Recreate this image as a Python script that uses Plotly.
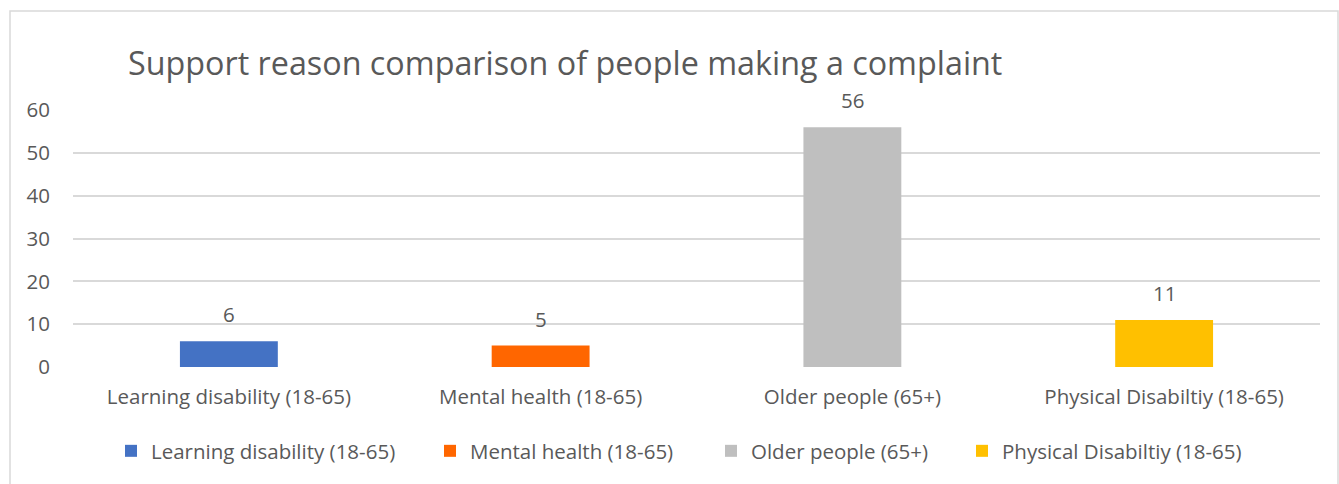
import plotly.graph_objects as go

# Complaint counts by support reason
categories = [
    "Learning disability (18-65)",
    "Mental health (18-65)",
    "Older people (65+)",
    "Physical Disabiltiy (18-65)",
]
counts = [6, 5, 56, 11]
colors = ["#4472C4", "#FF6600", "#BFBFBF", "#FFC000"]
y_ticks = [0, 10, 20, 30, 40, 50, 60]

# legend entry widths (px) so the keys sit evenly spread under the plot
legend_widths = [274, 236, 206, 250]

FONT = "Open Sans"
TEXT = "#595959"
SIZE = 20.5

fig = go.Figure()
for cat, val, col, lw in zip(categories, counts, colors, legend_widths):
    fig.add_trace(go.Bar(
        x=[cat], y=[val], name=cat,
        marker=dict(color=col, line=dict(width=0)),
        width=0.314,
        legendwidth=lw,
        hoverinfo="x+y",
    ))

# value labels above each bar
for cat, val in zip(categories, counts):
    fig.add_annotation(
        x=cat, y=val, text=str(val), showarrow=False,
        yanchor="bottom", yshift=11,
        font=dict(family=FONT, size=SIZE, color=TEXT),
    )

fig.update_layout(
    width=1339, height=484,
    margin=dict(l=73, r=19, t=110, b=117),
    paper_bgcolor="white", plot_bgcolor="white",
    barmode="overlay",
    font=dict(family=FONT, size=SIZE, color=TEXT),
    title=dict(
        text="Support reason comparison of people making a complaint",
        x=128 / 1339, xanchor="left", xref="container",
        y=1 - 64 / 484, yanchor="middle", yref="container",
        font=dict(family=FONT, size=32.3, color=TEXT),
    ),
    xaxis=dict(
        categoryorder="array", categoryarray=categories,
        showgrid=False, showline=False, zeroline=False,
        ticks="", tickfont=dict(family=FONT, size=SIZE, color=TEXT),
        ticklabelstandoff=15,
    ),
    yaxis=dict(
        range=[0, 60], tickvals=y_ticks,
        showgrid=True, gridcolor="#D9D9D9", gridwidth=1.5,
        zeroline=False, showline=False, ticks="",
        tickfont=dict(family=FONT, size=SIZE, color=TEXT),
        ticklabelstandoff=22,
    ),
    legend=dict(
        orientation="h", x=111 / 1339, xanchor="left", xref="container",
        y=1 - 451 / 484, yanchor="middle", yref="container",
        font=dict(family=FONT, size=SIZE, color=TEXT),
        traceorder="normal",
    ),
    shapes=[dict(
        type="rect", xref="paper", yref="paper",
        x0=(10 - 73) / (1339 - 73 - 19), x1=(1338 - 73) / (1339 - 73 - 19),
        y0=-2, y1=(484 - 117 - 11) / (484 - 110 - 117),
        line=dict(color="#D9D9D9", width=1.5), fillcolor="rgba(0,0,0,0)",
        layer="below",
    )],
)

fig.write_html("out.html")
